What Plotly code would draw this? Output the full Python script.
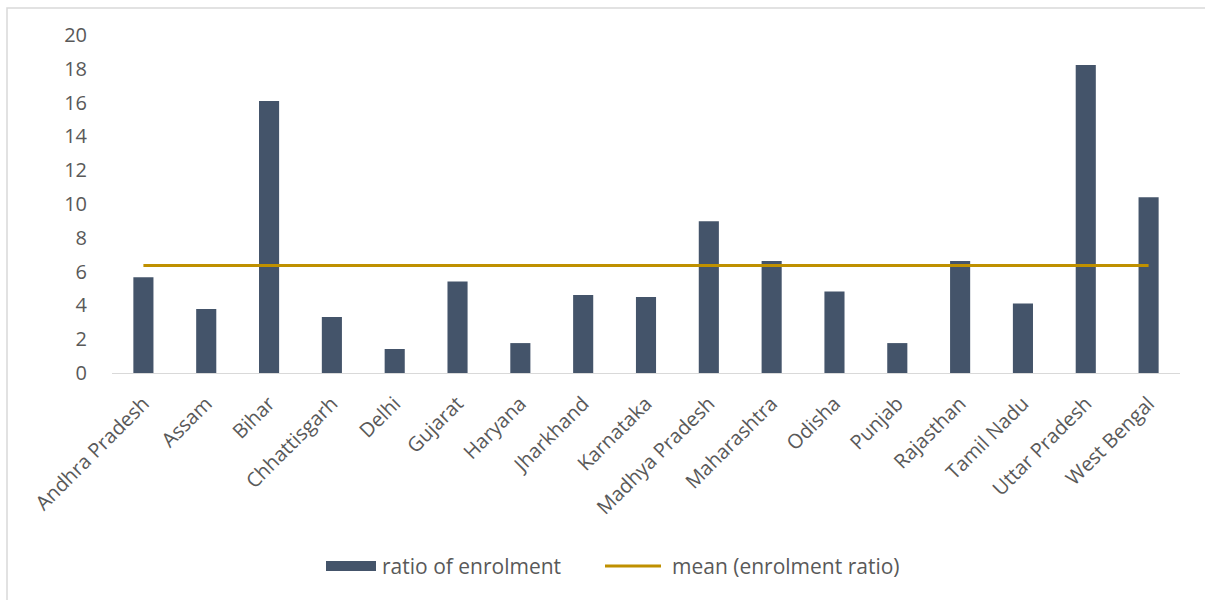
import plotly.graph_objects as go

# Enrolment ratio by state
states = [
    "Andhra Pradesh", "Assam", "Bihar", "Chhattisgarh", "Delhi", "Gujarat",
    "Haryana", "Jharkhand", "Karnataka", "Madhya Pradesh", "Maharashtra",
    "Odisha", "Punjab", "Rajasthan", "Tamil Nadu", "Uttar Pradesh", "West Bengal",
]
enrolment_ratio = [
    5.67, 3.78, 16.09, 3.31, 1.42, 5.41,
    1.77, 4.61, 4.49, 8.98, 6.62,
    4.82, 1.77, 6.62, 4.11, 18.22, 10.40,
]
mean_ratio = [6.36] * len(states)
y_ticks = [0, 2, 4, 6, 8, 10, 12, 14, 16, 18, 20]
legend_names = ["ratio of enrolment", "mean (enrolment ratio)"]

W, H = 1205, 600
L, R, T, B = 112, 25, 35, 227

FONT = "Open Sans, Noto Sans, sans-serif"
GREY = "#595959"
BAR_COLOR = "#44546A"
MEAN_COLOR = "#BF9000"

fig = go.Figure()
fig.add_trace(go.Bar(
    x=states, y=enrolment_ratio, name=legend_names[0],
    marker=dict(color=BAR_COLOR, line=dict(width=0)), showlegend=False,
))
fig.add_trace(go.Scatter(
    x=states, y=mean_ratio, name=legend_names[1], mode="lines",
    line=dict(color=MEAN_COLOR, width=3), showlegend=False,
))

pw = W - L - R
ph = H - T - B


def px(x):
    """Page x pixel -> plot-area fraction."""
    return (x - L) / pw


def py(y):
    """Page y pixel (from top) -> plot-area fraction."""
    return (H - B - y) / ph


shapes = [
    # outer chart frame
    dict(type="rect", xref="paper", yref="paper",
         x0=px(7), x1=px(1215), y0=py(610), y1=py(8),
         line=dict(color="#D9D9D9", width=1.5), layer="below"),
    # legend swatches
    dict(type="rect", xref="paper", yref="paper",
         x0=px(326), x1=px(376), y0=py(571), y1=py(561),
         fillcolor=BAR_COLOR, line=dict(width=0)),
    dict(type="line", xref="paper", yref="paper",
         x0=px(605), x1=px(661), y0=py(566), y1=py(566),
         line=dict(color=MEAN_COLOR, width=3)),
]

annotations = [
    dict(text=legend_names[0], xref="paper", yref="paper",
         x=px(380), y=py(566), xanchor="left", yanchor="middle",
         showarrow=False, font=dict(size=21, color=GREY, family=FONT)),
    dict(text=legend_names[1], xref="paper", yref="paper",
         x=px(670), y=py(566), xanchor="left", yanchor="middle",
         showarrow=False, font=dict(size=21, color=GREY, family=FONT)),
]

fig.update_layout(
    width=W, height=H,
    margin=dict(l=L, r=R, t=T, b=B, pad=0),
    paper_bgcolor="white", plot_bgcolor="white",
    font=dict(family=FONT, color=GREY, size=20),
    bargap=0.68,
    showlegend=False,
    xaxis=dict(
        showline=True, linecolor="#D9D9D9", linewidth=1,
        ticks="outside", ticklen=10, tickcolor="rgba(0,0,0,0)",
        tickangle=-45, tickfont=dict(size=20, color=GREY),
        showgrid=False, zeroline=False, fixedrange=True,
    ),
    yaxis=dict(
        range=[0, 20], tickvals=y_ticks, showgrid=False, zeroline=False,
        showline=False, ticks="outside", ticklen=20,
        tickcolor="rgba(0,0,0,0)",
        tickfont=dict(size=20, color=GREY), fixedrange=True,
    ),
    shapes=shapes,
    annotations=annotations,
)

fig.write_html("out.html")
